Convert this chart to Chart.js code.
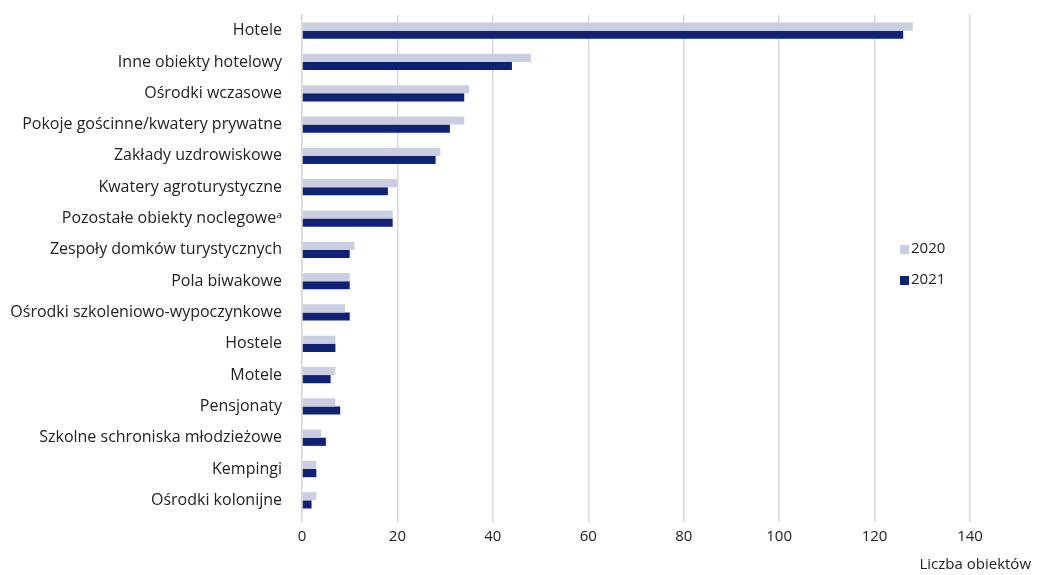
<!DOCTYPE html>
<html>
<head>
<meta charset="utf-8">
<script src="https://cdn.jsdelivr.net/npm/chart.js@4.4.0/dist/chart.umd.min.js"></script>
<style>
  html, body { margin: 0; padding: 0; background: #fff; }
  #wrap { width: 1042px; height: 575px; position: relative; }
</style>
</head>
<body>
<div id="wrap"><canvas id="chart"></canvas></div>
<script>
const categories = [
  "Hotele",
  "Inne obiekty hotelowy",
  "Ośrodki wczasowe",
  "Pokoje gościnne/kwatery prywatne",
  "Zakłady uzdrowiskowe",
  "Kwatery agroturystyczne",
  "Pozostałe obiekty noclegoweᵃ",
  "Zespoły domków turystycznych",
  "Pola biwakowe",
  "Ośrodki szkoleniowo-wypoczynkowe",
  "Hostele",
  "Motele",
  "Pensjonaty",
  "Szkolne schroniska młodzieżowe",
  "Kempingi",
  "Ośrodki kolonijne"
];
const values2020 = [128, 48, 35, 34, 29, 20, 19, 11, 10, 9, 7, 7, 7, 4, 3, 3];
const values2021 = [126, 44, 34, 31, 28, 18, 19, 10, 10, 10, 7, 6, 8, 5, 3, 2];
const xTicks = [0, 20, 40, 60, 80, 100, 120, 140];
const axisTitle = "Liczba obiektów";

const FONT = "'Open Sans', 'Noto Sans', sans-serif";

// legend and axis title drawn by hand, legend sits inside the plot
const extras = {
  id: "extras",
  afterDraw(chart) {
    const ctx = chart.ctx;
    ctx.save();
    ctx.font = "15px " + FONT;
    ctx.textBaseline = "middle";
    ctx.textAlign = "left";
    chart.data.datasets.forEach((ds, i) => {
      const y = 249 + i * 31;
      ctx.fillStyle = ds.backgroundColor;
      ctx.fillRect(900, y - 4, 9, 9);
      ctx.fillStyle = "#222";
      ctx.fillText(ds.label, 911, y);
    });
    ctx.textAlign = "right";
    ctx.fillText(axisTitle, 1031, 565);
    ctx.restore();
  }
};

const ctx = document.getElementById("chart").getContext("2d");
new Chart(ctx, {
  type: "bar",
  data: {
    labels: categories,
    datasets: [
      { label: "2020", data: values2020, backgroundColor: "#c9cee2" },
      { label: "2021", data: values2021, backgroundColor: "#0f2277" }
    ]
  },
  options: {
    indexAxis: "y",
    responsive: true,
    maintainAspectRatio: false,
    animation: false,
    categoryPercentage: 0.52,
    barPercentage: 1,
    layout: { padding: { top: 15, right: 72, left: 0, bottom: 0 } },
    plugins: {
      legend: { display: false },
      tooltip: { enabled: false }
    },
    scales: {
      x: {
        min: 0,
        max: 140,
        afterBuildTicks(scale) {
          scale.ticks = xTicks.map(v => ({ value: v }));
        },
        afterFit(scale) { scale.height = 59; },
        grid: { color: "#d9d9d9", lineWidth: 1.5, drawTicks: true, tickLength: 6 },
        border: { display: false },
        ticks: { color: "#222", font: { family: FONT, size: 15 }, padding: 6 }
      },
      y: {
        afterFit(scale) {
          scale.width = 302;
          scale.paddingTop = 0;
          scale.paddingBottom = 0;
        },
        grid: { display: false },
        border: { display: true, color: "#d9d9d9", width: 1.5 },
        ticks: { color: "#222", font: { family: FONT, size: 16 }, padding: 12 }
      }
    }
  },
  plugins: [extras]
});
</script>
</body>
</html>
